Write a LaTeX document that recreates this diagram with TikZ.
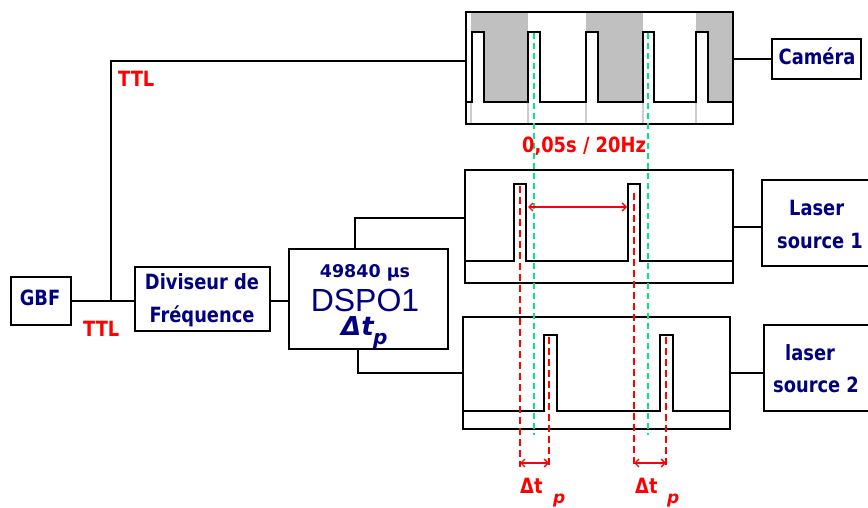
\documentclass[tikz,border=0pt]{standalone}
\usepackage{fontspec}
\usetikzlibrary{arrows.meta,calc}
\newfontfamily\labf{DejaVu Sans}[FakeStretch=0.85]
\newfontfamily\labw{DejaVu Sans}
\newfontfamily\arialf{Liberation Sans}
\definecolor{navy}{RGB}{0,0,128}
\definecolor{tred}{RGB}{255,0,0}
\definecolor{tgreen}{RGB}{0,235,130}
\definecolor{camgray}{RGB}{192,192,192}
\definecolor{faint}{RGB}{205,205,205}
\tikzset{
  box/.style={draw, line width=2pt, fill=white, inner sep=0pt, outer sep=0pt, anchor=north west},
  wire/.style={line width=2pt},
  wave/.style={line width=2pt, line join=miter},
  gdash/.style={tgreen, line width=1.8pt, dash pattern=on 6pt off 4pt},
  rdash/.style={tred, line width=2pt, dash pattern=on 7pt off 4pt},
  dim/.style={tred, line width=1.3pt, {Straight Barb[length=4pt,width=8pt]}-{Straight Barb[length=4pt,width=8pt]}},
  lbl/.style={font=\labf\bfseries\fontsize{21}{24}\selectfont, text=navy, inner sep=0pt, anchor=base},
  rlbl/.style={font=\labf\bfseries\fontsize{21}{24}\selectfont, text=tred, inner sep=0pt, anchor=base},
}
\begin{document}
\begin{tikzpicture}[x=1pt,y=-1pt]
\useasboundingbox (0,0) rectangle (868,508);
\clip (0,0) rectangle (868,508);
\fill[white] (0,0) rectangle (868,508);

% boxes
\node[box, minimum width=60, minimum height=48] (gbf) at (11,277) {};
\node[box, minimum width=135, minimum height=64] (div) at (135,267) {};
\node[box, minimum width=159, minimum height=100] (dsp) at (289,249) {};
\node[box, minimum width=267, minimum height=112] (sigc) at (466,12) {};
\node[box, minimum width=268, minimum height=113] (sig1) at (465,170) {};
\node[box, minimum width=267, minimum height=112] (sig2) at (463,317) {};
\node[box, minimum width=89, minimum height=40] (cam) at (772,39) {};
\node[box, minimum width=140, minimum height=86] (las1) at (762,180) {};
\node[box, minimum width=140, minimum height=86] (las2) at (764,325) {};

% connectors
\coordinate (j) at (111,0 |- gbf.east);
\draw[wire] (gbf.east) -- (div.west |- gbf.east);
\draw[wire] (j) |- (sigc.west |- 0,61);
\draw[wire] (div.east |- gbf.east) -- (dsp.west |- gbf.east);
\draw[wire] (355,0 |- dsp.north) |- (sig1.west |- 0,218);
\draw[wire] (358,0 |- dsp.south) |- (sig2.west);
\draw[wire] (sigc.east |- cam.west) -- (cam.west);
\draw[wire] (sig1.east) -- (las1.west |- sig1.east);
\draw[wire] (sig2.east) -- (las2.west |- sig2.east);

% camera exposure shading
\fill[camgray] (471,13) rectangle (528,102);
\fill[camgray] (586,13) rectangle (643,102);
\fill[camgray] (696,13) rectangle (732,102);
\fill[white] (472,32) rectangle (484,102);
\fill[white] (586,32) rectangle (598,102);
\fill[white] (696,32) rectangle (708,102);
\foreach \xx in {471,528,586,643,696}
  \draw[faint, line width=1.2pt] (\xx,103) -- (\xx,123);

% waveforms
\draw[wave] (sigc.west |- 0,102) -- (472,102) -- (472,32) -- (484,32) -- (484,102)
  -- (528,102) -- (528,32) -- (540,32) -- (540,102)
  -- (586,102) -- (586,32) -- (598,32) -- (598,102)
  -- (643,102) -- (643,32) -- (654,32) -- (654,102)
  -- (696,102) -- (696,32) -- (708,32) -- (708,102) -- (sigc.east |- 0,102);
\draw[wave] (sig1.west |- 0,261) -- (514,261) -- (514,184) -- (526,184) -- (526,261)
  -- (628,261) -- (628,184) -- (640,184) -- (640,261) -- (sig1.east |- 0,261);
\draw[wave] (sig2.west |- 0,411) -- (544,411) -- (544,335) -- (557,335) -- (557,411)
  -- (660,411) -- (660,335) -- (673,335) -- (673,411) -- (sig2.east |- 0,411);

% dashed reference lines
\coordinate (g1t) at (534,33); \coordinate (g1b) at (534,435);
\coordinate (g2t) at (648,33); \coordinate (g2b) at (648,435);
\coordinate (r1t) at (520,186); \coordinate (r1b) at (520,467);
\coordinate (r2t) at (634,193); \coordinate (r2b) at (634,467);
\coordinate (r3t) at (549,337); \coordinate (r3b) at (549,467);
\coordinate (r4t) at (666,337); \coordinate (r4b) at (666,467);
\draw[gdash] (g1t) -- (g1b);
\draw[gdash] (g2t) -- (g2b);
\draw[rdash] (r1t) -- (r1b);
\draw[rdash] (r2t) -- (r2b);
\draw[rdash] (r3t) -- (r3b);
\draw[rdash] (r4t) -- (r4b);

% dimension arrows
\coordinate (p1a) at (528,207); \coordinate (p1b) at (627,207);
\coordinate (d1a) at (520,463); \coordinate (d1b) at (549,463);
\coordinate (d2a) at (634,463); \coordinate (d2b) at (666,463);
\draw[dim] (p1a) -- (p1b);
\draw[dim] (d1a) -- (d1b);
\draw[dim] (d2a) -- (d2b);

% texts
\node[lbl] (tgbf) at (40,305) {GBF};
\node[lbl] (tdiv1) at (202,289) {Diviseur de};
\node[lbl] (tdiv2) at (202,322) {Fréquence};
\node[lbl] (tcam) at (817,65) {Caméra};
\node[lbl, anchor=base west] (tl1a) at (789,215) {Laser};
\node[lbl, anchor=base west] (tl1b) at (777,248) {source 1};
\node[lbl, anchor=base west] (tl2a) at (785,360) {laser};
\node[lbl, anchor=base west] (tl2b) at (773,392) {source 2};
\node[rlbl, anchor=base west] (ttl1) at (118,87) {TTL};
\node[rlbl, anchor=base west] (ttl2) at (83,336) {TTL};
\node[rlbl] (tper) at (584,153) {0,05s / 20Hz};

\node[lbl, font=\labw\bfseries\fontsize{17.5}{20}\selectfont] (tus) at (365,277) {49840 µs};
\node[lbl, font=\arialf\fontsize{32}{32}\selectfont] (tdsp) at (365,311) {DSPO1};
\node[lbl, anchor=base west, font=\labw\bfseries\itshape\fontsize{26}{26}\selectfont] (tdt) at (341,335) {Δt};
\node[lbl, anchor=base west, font=\labw\bfseries\itshape\fontsize{20}{20}\selectfont] (tdp) at (373,344) {p};

\node[rlbl, anchor=base west] (tdt1) at (520,493) {Δt};
\node[rlbl, anchor=base west, font=\labw\bfseries\itshape\fontsize{17}{17}\selectfont] (tdp1) at (553,503) {p};
\node[rlbl, anchor=base west] (tdt2) at (635,493) {Δt};
\node[rlbl, anchor=base west, font=\labw\bfseries\itshape\fontsize{17}{17}\selectfont] (tdp2) at (667,503) {p};
\end{tikzpicture}
\end{document}
